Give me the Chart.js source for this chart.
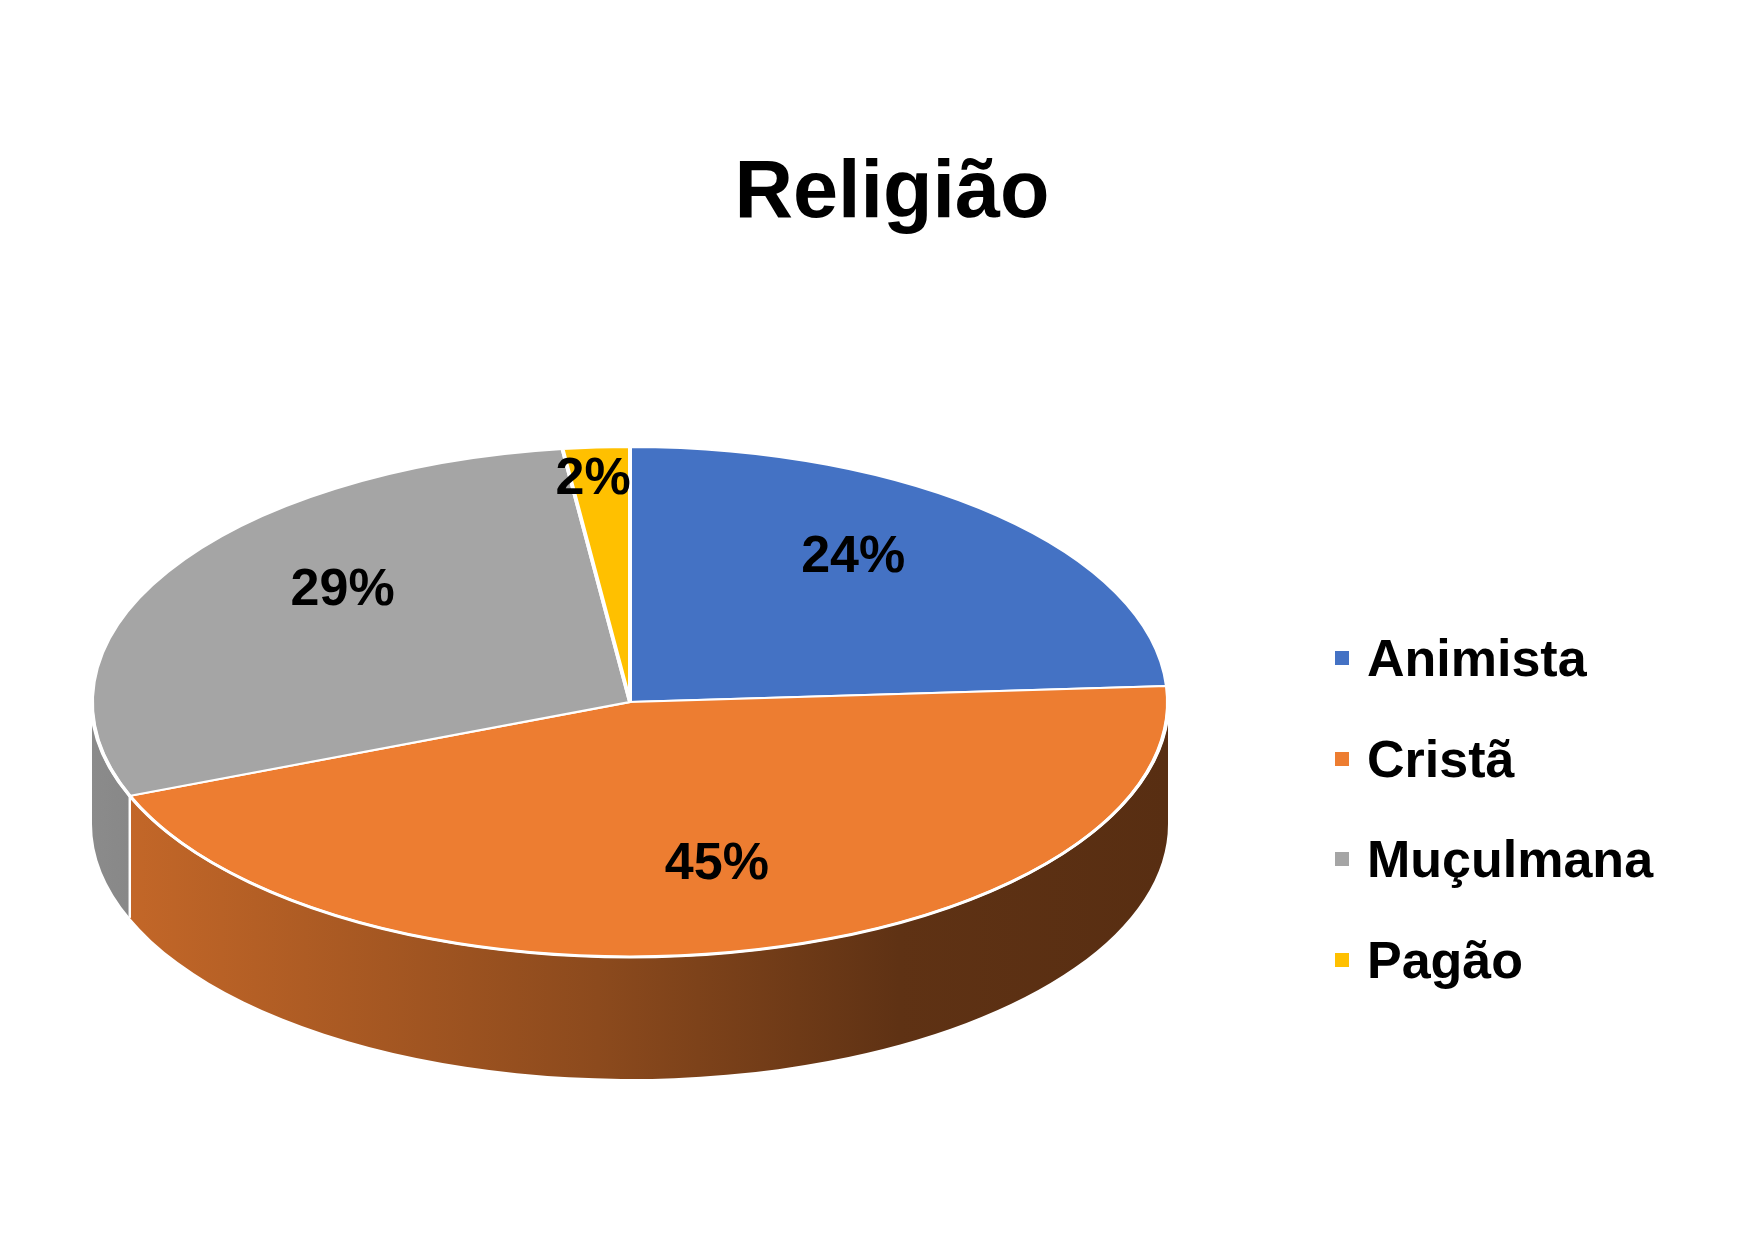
<!DOCTYPE html>
<html><head><meta charset="utf-8">
<script src="https://cdn.jsdelivr.net/npm/chart.js@4"></script>
<style>
html,body{margin:0;padding:0;background:#fff;}
#wrap{position:relative;width:1749px;height:1241px;overflow:hidden;}
canvas{position:absolute;left:0;top:0;}
.t{position:absolute;font-family:'Liberation Sans',Arial,sans-serif;font-weight:bold;color:#000;white-space:nowrap;}
#title{font-size:81px;line-height:81px;left:892px;top:149px;transform:translateX(-50%);}
.lg{position:absolute;left:1335px;display:flex;align-items:center;height:52px;font-family:'Liberation Sans',Arial,sans-serif;font-weight:bold;font-size:52px;line-height:52px;color:#000;white-space:nowrap;}
.lg i{display:inline-block;width:14px;height:14px;margin-right:18px;}
</style>
</head><body>
<div id="wrap">
<canvas id="c" width="1749" height="1241"></canvas>
<div id="title" class="t">Religião</div>
<div id="legend"></div>
</div>
<script>
const categories = ['Animista', 'Cristã', 'Muçulmana', 'Pagão'];
const values = [24, 45, 29, 2];
const colors = ['#4472C4', '#ED7D31', '#A5A5A5', '#FFC000'];
const chartTitle = 'Religião';

// layout constants
const TILT = 255 / 538;
const DEPTH = 122;

document.getElementById('title').textContent = chartTitle;
const lg = document.getElementById('legend');
categories.forEach((c, i) => {
  const d = document.createElement('div');
  d.className = 'lg';
  d.style.top = (632 + i * 100.7) + 'px';
  d.innerHTML = '<i style="background:' + colors[i] + '"></i><span></span>';
  d.querySelector('span').textContent = c;
  lg.appendChild(d);
});

function hexRgb(h) {
  return [parseInt(h.slice(1, 3), 16), parseInt(h.slice(3, 5), 16), parseInt(h.slice(5, 7), 16)];
}
function shade(h, f) {
  const c = hexRgb(h).map(v => Math.round(v * f));
  return 'rgb(' + c.join(',') + ')';
}

const pie3d = {
  id: 'pie3d',
  beforeDatasetsDraw(chart) {
    const meta = chart.getDatasetMeta(0);
    const a0 = meta.data[0];
    const cx = a0.x, cy = a0.y, R = a0.outerRadius;
    const ry = R * TILT;
    const ctx = chart.ctx;
    meta.data.forEach((arc, i) => {
      const a = Math.max(arc.startAngle, 0), b = Math.min(arc.endAngle, Math.PI);
      if (b <= a) return;
      const g = ctx.createLinearGradient(cx - R, 0, cx + R, 0);
      g.addColorStop(0, shade(colors[i], 0.84));
      g.addColorStop(0.47, shade(colors[i], 0.59));
      g.addColorStop(0.75, shade(colors[i], 0.40));
      g.addColorStop(1, shade(colors[i], 0.37));
      ctx.beginPath();
      ctx.ellipse(cx, cy, R, ry, 0, a, b, false);
      ctx.ellipse(cx, cy + DEPTH, R, ry, 0, b, a, true);
      ctx.closePath();
      ctx.fillStyle = g;
      ctx.fill();
    });
    // side separators
    ctx.save();
    ctx.strokeStyle = '#fff';
    ctx.lineWidth = 2.5;
    meta.data.forEach(arc => {
      const s = arc.startAngle;
      if (s > 0 && s < Math.PI) {
        const x = cx + R * Math.cos(s), y = cy + ry * Math.sin(s);
        ctx.beginPath(); ctx.moveTo(x, y); ctx.lineTo(x, y + DEPTH); ctx.stroke();
      }
    });
    ctx.restore();
    ctx.save();
    ctx.translate(cx, cy);
    ctx.scale(1, TILT);
    ctx.translate(-cx, -cy);
  },
  afterDatasetsDraw(chart) {
    const ctx = chart.ctx;
    ctx.restore();
    const meta = chart.getDatasetMeta(0);
    const a0 = meta.data[0];
    const cx = a0.x, cy = a0.y, R = a0.outerRadius;
    const ry = R * TILT;
    // front rim highlight
    ctx.save();
    ctx.strokeStyle = '#fff';
    ctx.lineWidth = 3;
    ctx.beginPath();
    ctx.ellipse(cx, cy, R, ry, 0, 0, Math.PI, false);
    ctx.stroke();
    ctx.restore();
    // data labels (perspective-like placement)
    const total = values.reduce((s, v) => s + v, 0);
    const P = -0.165;
    ctx.save();
    ctx.font = 'bold 52px "Liberation Sans", Arial, sans-serif';
    ctx.fillStyle = '#000';
    ctx.textAlign = 'center';
    ctx.textBaseline = 'middle';
    meta.data.forEach((arc, i) => {
      const frac = values[i] / total;
      const mid = (arc.startAngle + arc.endAngle) / 2;
      const r = frac < 0.05 ? 0.9 : 0.7;
      const u = r * Math.cos(mid), v = r * Math.sin(mid);
      const d = 1 + P * v;
      const x = cx + 505 * u / d - (frac < 0.05 ? 12 : 0);
      const y = cy - 28 + 248 * v / d;
      ctx.fillText(Math.round(frac * 100) + '%', x, y);
    });
    ctx.restore();
  }
};

new Chart(document.getElementById('c'), {
  type: 'pie',
  data: {
    labels: categories,
    datasets: [{
      data: values,
      backgroundColor: colors,
      borderColor: '#ffffff',
      borderWidth: 4,
      radius: 538,
      clip: false
    }]
  },
  options: {
    responsive: false,
    animation: false,
    events: [],
    layout: { padding: { left: 92, right: 581, top: 164, bottom: 1 } },
    plugins: { legend: { display: false }, title: { display: false }, tooltip: { enabled: false } }
  },
  plugins: [pie3d]
});
</script>
</body></html>
